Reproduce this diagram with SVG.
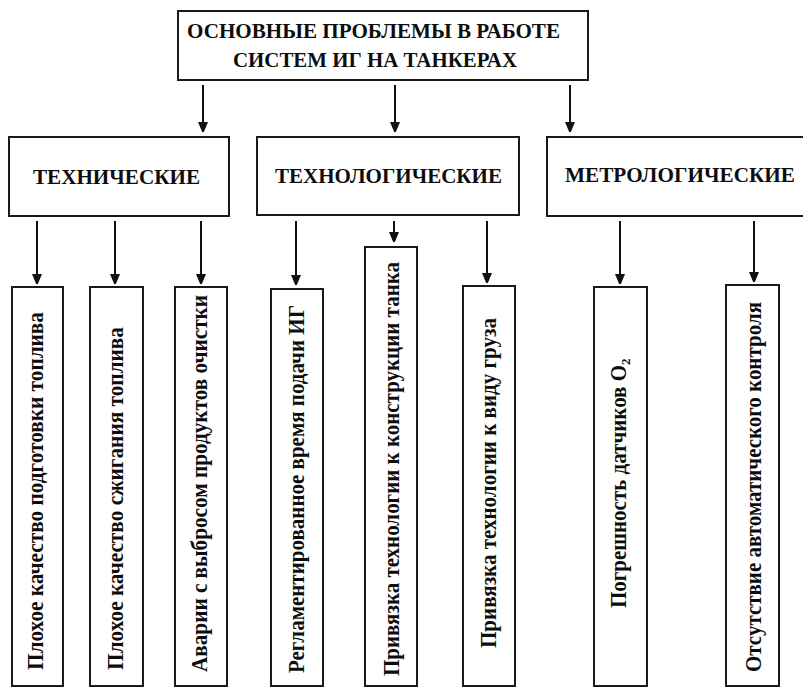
<svg xmlns="http://www.w3.org/2000/svg" width="803" height="688" viewBox="0 0 803 688">
  <style>
    .box { fill: #ffffff; stroke: #1a1a1a; stroke-width: 2; }
    .t { font-family: 'Liberation Serif', 'DejaVu Serif', serif; font-weight: bold; fill: #0d0d0d; }
    .h { font-size: 20.5px; }
    .c { font-size: 21.5px; }
    .l { font-size: 23px; }
    .con line { stroke: #111111; stroke-width: 2; marker-end: url(#arr); }
  </style>
  <defs>
    <marker id="arr" markerUnits="userSpaceOnUse" markerWidth="10" markerHeight="12" refX="4" refY="5" orient="auto">
      <path d="M0,0 L12,5 L0,10 z" fill="#111111"/>
    </marker>
  </defs>
  <rect x="0" y="0" width="803" height="688" fill="#ffffff"/>

  <g id="connectors" class="con">
    <line x1="203" y1="85" x2="203" y2="126"/>
    <line x1="395" y1="85" x2="395" y2="126"/>
    <line x1="570" y1="85" x2="570" y2="126"/>
    <line x1="37" y1="221" x2="37" y2="278"/>
    <line x1="115" y1="221" x2="115" y2="278"/>
    <line x1="201" y1="221" x2="201" y2="278"/>
    <line x1="296" y1="221" x2="296" y2="279"/>
    <line x1="394" y1="221" x2="394" y2="236"/>
    <line x1="487" y1="221" x2="487" y2="277"/>
    <line x1="620" y1="221" x2="620" y2="278"/>
    <line x1="754" y1="221" x2="754" y2="276"/>
  </g>

  <g id="root">
    <rect class="box" x="178" y="11" width="410" height="69"/>
    <text class="t h" x="373.5" y="38" text-anchor="middle" textLength="373" lengthAdjust="spacingAndGlyphs">ОСНОВНЫЕ ПРОБЛЕМЫ В РАБОТЕ</text>
    <text class="t h" x="375" y="67" text-anchor="middle" textLength="284" lengthAdjust="spacingAndGlyphs">СИСТЕМ ИГ НА ТАНКЕРАХ</text>
  </g>

  <g id="cat-technical">
    <rect class="box" x="9" y="137" width="220" height="79"/>
    <text class="t c" x="33" y="184" textLength="167" lengthAdjust="spacingAndGlyphs">ТЕХНИЧЕСКИЕ</text>
  </g>
  <g id="cat-technological">
    <rect class="box" x="257" y="137" width="262" height="78"/>
    <text class="t c" x="275" y="183" textLength="227" lengthAdjust="spacingAndGlyphs">ТЕХНОЛОГИЧЕСКИЕ</text>
  </g>
  <g id="cat-metrological">
    <rect class="box" x="547" y="137" width="262" height="79"/>
    <text class="t c" x="565" y="182" textLength="230" lengthAdjust="spacingAndGlyphs">МЕТРОЛОГИЧЕСКИЕ</text>
  </g>

  <g id="leaf1">
    <rect class="box" x="12" y="287" width="51" height="399"/>
    <text class="t l" transform="translate(43,670) rotate(-90)" textLength="358" lengthAdjust="spacingAndGlyphs">Плохое качество подготовки топлива</text>
  </g>
  <g id="leaf2">
    <rect class="box" x="90" y="287" width="53" height="399"/>
    <text class="t l" transform="translate(123,670) rotate(-90)" textLength="343" lengthAdjust="spacingAndGlyphs">Плохое качество сжигания топлива</text>
  </g>
  <g id="leaf3">
    <rect class="box" x="175" y="287" width="52" height="399"/>
    <text class="t l" transform="translate(207,672) rotate(-90)" textLength="377" lengthAdjust="spacingAndGlyphs">Аварии с выбросом продуктов очистки</text>
  </g>
  <g id="leaf4">
    <rect class="box" x="271" y="289" width="52" height="397"/>
    <text class="t l" transform="translate(304,673) rotate(-90)" textLength="368" lengthAdjust="spacingAndGlyphs">Регламентированное время подачи ИГ</text>
  </g>
  <g id="leaf5">
    <rect class="box" x="365" y="247" width="52" height="439"/>
    <text class="t l" transform="translate(399,676) rotate(-90)" textLength="414" lengthAdjust="spacingAndGlyphs">Привязка технологии к конструкции танка</text>
  </g>
  <g id="leaf6">
    <rect class="box" x="463" y="286" width="52" height="400"/>
    <text class="t l" transform="translate(496,648) rotate(-90)" textLength="330" lengthAdjust="spacingAndGlyphs">Привязка технологии к виду груза</text>
  </g>
  <g id="leaf7">
    <rect class="box" x="594" y="287" width="53" height="399"/>
    <text class="t l" transform="translate(626,608) rotate(-90)"><tspan textLength="243" lengthAdjust="spacingAndGlyphs">Погрешность датчиков O</tspan><tspan font-size="13" dy="4">2</tspan></text>
  </g>
  <g id="leaf8">
    <rect class="box" x="726" y="285" width="53" height="401"/>
    <text class="t l" transform="translate(761,672) rotate(-90)" textLength="370" lengthAdjust="spacingAndGlyphs">Отсутствие автоматического контроля</text>
  </g>
</svg>
